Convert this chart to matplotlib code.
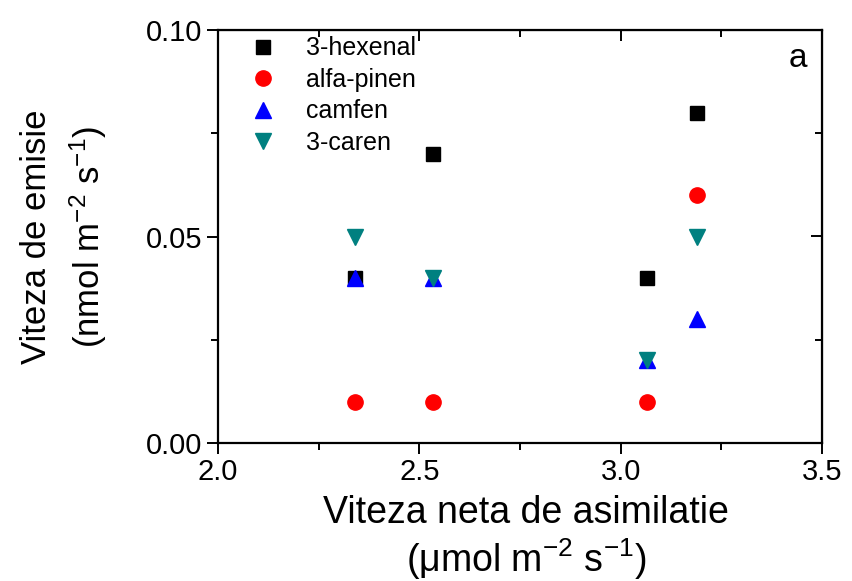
import matplotlib
matplotlib.use("Agg")
import matplotlib.pyplot as plt
from matplotlib.ticker import MultipleLocator, FormatStrFormatter

plt.rcParams['font.family'] = ['Liberation Sans', 'DejaVu Sans']
plt.rcParams['mathtext.fontset'] = 'custom'
plt.rcParams['mathtext.rm'] = 'Liberation Sans'
plt.rcParams['mathtext.it'] = 'Liberation Sans'

# data
asimilatie = [2.34, 2.535, 3.065, 3.19]
hexenal = [0.04, 0.07, 0.04, 0.08]
alfa_pinen = [0.01, 0.01, 0.01, 0.06]
camfen = [0.04, 0.04, 0.02, 0.03]
caren = [0.05, 0.04, 0.02, 0.05]
names = ["3-hexenal", "alfa-pinen", "camfen", "3-caren"]

fig = plt.figure(figsize=(8.53, 5.81), dpi=100)
ax = fig.add_axes([218/853, 1-443/581, (822-218)/853, (443-30)/581])

ax.plot(asimilatie, hexenal, 's', color='black', ms=9.5, label=names[0])
ax.plot(asimilatie, alfa_pinen, 'o', color='red', ms=11, label=names[1])
ax.plot(asimilatie, camfen, '^', color='blue', ms=12, label=names[2])
ax.plot(asimilatie, caren, 'v', color='#008080', ms=12, label=names[3])

ax.set_xlim(2.0, 3.5)
ax.set_ylim(0.0, 0.10)
ax.xaxis.set_major_locator(MultipleLocator(0.5))
ax.xaxis.set_minor_locator(MultipleLocator(0.25))
ax.yaxis.set_major_locator(MultipleLocator(0.05))
ax.yaxis.set_minor_locator(MultipleLocator(0.025))
ax.xaxis.set_major_formatter(FormatStrFormatter('%.1f'))
ax.yaxis.set_major_formatter(FormatStrFormatter('%.2f'))

for s in ax.spines.values():
    s.set_linewidth(1.6)
ax.tick_params(which='both', direction='out', width=1.4, labelsize=21,
               top=False, right=False)
ax.tick_params(which='major', length=8, pad=3)
ax.tick_params(which='minor', length=5)

# ticks pointing inwards on top and right
axt = ax.secondary_xaxis('top')
axt.xaxis.set_major_locator(MultipleLocator(0.5))
axt.xaxis.set_minor_locator(MultipleLocator(0.25))
axt.tick_params(which='both', direction='in', width=1.4, labeltop=False)
axt.tick_params(which='major', length=8)
axt.tick_params(which='minor', length=5)
axr = ax.secondary_yaxis('right')
axr.yaxis.set_major_locator(MultipleLocator(0.05))
axr.yaxis.set_minor_locator(MultipleLocator(0.025))
axr.tick_params(which='both', direction='in', width=1.4, labelright=False)
axr.tick_params(which='major', length=8)
axr.tick_params(which='minor', length=5)

ax.set_xlabel("Viteza neta de asimilatie\n(\u03bcmol m$^{-2}$ s$^{-1}$)",
              fontsize=27, linespacing=1.15)
ax.xaxis.set_label_coords(0.51, -0.125)
ax.set_ylabel("Viteza de emisie\n(nmol m$^{-2}$ s$^{-1}$)",
              fontsize=25, linespacing=1.45)
ax.yaxis.set_label_coords(-0.18, 0.5)

ax.text(0.975, 0.93, "a", transform=ax.transAxes, fontsize=24,
        ha='right', va='center')

ax.legend(loc='upper left', frameon=False, fontsize=18, handlelength=2.0,
          handletextpad=0.7, borderaxespad=0.0, labelspacing=0.3,
          borderpad=0.25, bbox_to_anchor=(0.023, 1.0))

fig.savefig("out.png", dpi=100)
